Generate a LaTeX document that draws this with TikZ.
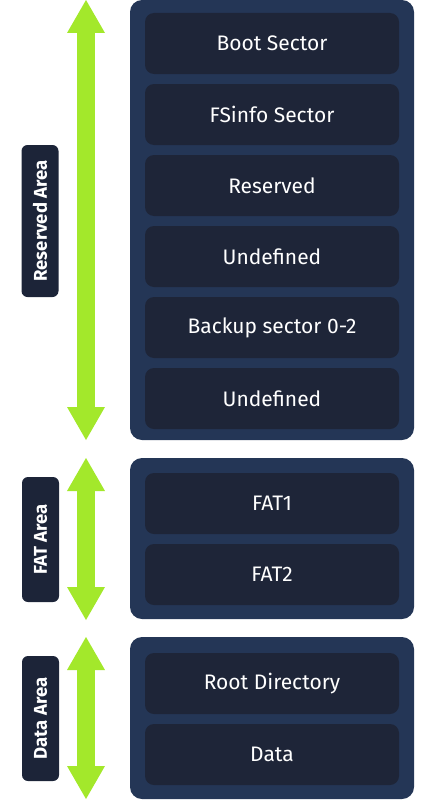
\documentclass[tikz,border=0pt]{standalone}
\usepackage{fontspec}
\setmainfont{Fira Sans}
\usetikzlibrary{arrows.meta, positioning}
\definecolor{outerblue}{HTML}{243656}
\definecolor{innerblue}{HTML}{1E2538}
\definecolor{labelblue}{HTML}{1C2438}
\definecolor{areagreen}{HTML}{A3E82B}

\begin{document}
\begin{tikzpicture}[
    x=1pt, y=-1pt,
    area/.style  ={fill=outerblue, rounded corners=12pt, inner sep=0pt,
                   outer sep=0pt, minimum width=284pt},
    sector/.style={fill=innerblue, rounded corners=9pt, text=white,
                   font=\fontsize{21}{25}\selectfont, inner sep=0pt,
                   outer sep=0pt, minimum width=254pt, minimum height=61pt},
    tag/.style   ={fill=labelblue, rounded corners=6pt, rotate=90, text=white,
                   font=\bfseries\fontsize{18.5}{22}\selectfont, inner sep=0pt,
                   minimum height=37pt},
    span/.style  ={draw=areagreen, line width=18pt,
                   {Triangle[length=33pt, width=38pt, line width=0pt]}-{Triangle[length=33pt, width=38pt, line width=0pt]}},
]
\useasboundingbox (0,0) rectangle (426,800);
% reserved area
\node[area, minimum height=440pt] (resbox) at (272,220) {};
\node[sector] (boot) at (272,43.5) {Boot Sector};
\node[sector, below=10pt of boot]     (fsinfo)  {FSinfo Sector};
\node[sector, below=10pt of fsinfo]   (resv)    {Reserved};
\node[sector, below=10pt of resv]     (undefa)  {Undefined};
\node[sector, below=10pt of undefa]   (backup)  {Backup sector 0-2};
\node[sector, below=10pt of backup]   (undefb)  {Undefined};
% FAT area
\node[area, minimum height=161pt] (fatbox) at (272,538.5) {};
\node[sector] (fatone) at (272,503.5) {FAT1};
\node[sector, below=10pt of fatone]   (fattwo)  {FAT2};
% data area
\node[area, minimum height=162pt] (databox) at (272,718) {};
\node[sector] (rootdir) at (272,683.5) {Root Directory};
\node[sector, below=10pt of rootdir]  (data)    {Data};
% side tags
\node[tag, minimum width=152pt] (restag)  at (40,221)    {Reserved Area};
\node[tag, minimum width=125pt] (fattag)  at (40.5,539.5) {FAT Area};
\node[tag, minimum width=125pt] (datatag) at (40.5,718.5) {Data Area};
% green spans
\coordinate (restop)  at (86,0);
\coordinate (resbot)  at (86,440);
\coordinate (fattop)  at (86,458);
\coordinate (fatbot)  at (86,620);
\coordinate (datatop) at (86,637);
\coordinate (databot) at (86,799);
\draw[span] (restop)  -- (resbot);
\draw[span] (fattop)  -- (fatbot);
\draw[span] (datatop) -- (databot);
\end{tikzpicture}
\end{document}
